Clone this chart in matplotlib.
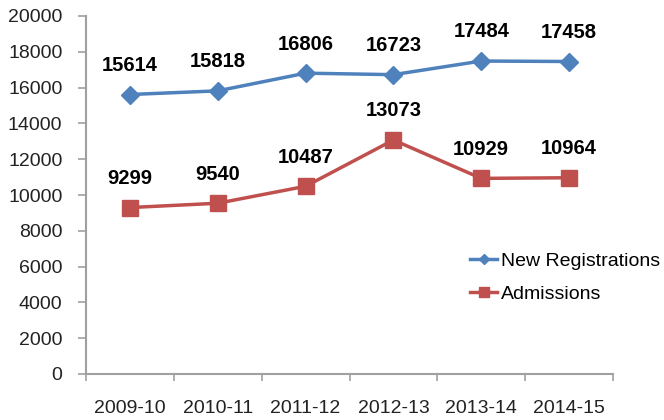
import matplotlib.pyplot as plt
from matplotlib.ticker import MultipleLocator

plt.rcParams['font.family'] = ['Liberation Sans', 'DejaVu Sans']

years = ['2009-10', '2010-11', '2011-12', '2012-13', '2013-14', '2014-15']
new_reg = [15614, 15818, 16806, 16723, 17484, 17458]
admissions = [9299, 9540, 10487, 13073, 10929, 10964]

fig = plt.figure(figsize=(6.64, 4.2), dpi=100)
ax = fig.add_axes([86 / 664, 46 / 420, 527 / 664, 358 / 420])

x = range(len(years))
ax.plot(x, new_reg, color='#4F81BD', lw=2.5, marker='D', ms=9, label='New Registrations')
ax.plot(x, admissions, color='#C0504D', lw=2.5, marker='s', ms=12, label='Admissions')

for series in (new_reg, admissions):
    for i, v in enumerate(series):
        ax.annotate(str(v), (i, v), xytext=(0, 17), textcoords='offset points',
                    ha='center', va='baseline', fontsize=14.5, fontweight='bold')

ax.set_xlim(-0.5, len(years) - 0.5)
ax.set_ylim(0, 20000)
ax.yaxis.set_major_locator(MultipleLocator(2000))
ax.set_xticks([i - 0.5 for i in range(len(years) + 1)])
ax.set_xticklabels([])
ax.set_xticks(list(x), minor=True)
ax.set_xticklabels(years, minor=True)
ax.tick_params(axis='x', which='minor', length=0, labelsize=14, pad=19, labelcolor='#222222')
ax.tick_params(axis='x', which='major', length=5, width=1.2, color='#a0a0a0')
ax.tick_params(axis='y', length=6, width=1.2, color='#a0a0a0', labelsize=14, pad=11,
               labelcolor='#222222')

for s in ['top', 'right']:
    ax.spines[s].set_visible(False)
for s in ['left', 'bottom']:
    ax.spines[s].set_color('#a0a0a0')
    ax.spines[s].set_linewidth(1.5)

fig.legend(loc='upper left', bbox_to_anchor=(470 / 664, 0.40), frameon=False,
           fontsize=14, handlelength=1.4, handletextpad=0.2, labelspacing=0.8,
           borderpad=0, borderaxespad=0, markerscale=0.6)

fig.savefig('out.png', dpi=100)
